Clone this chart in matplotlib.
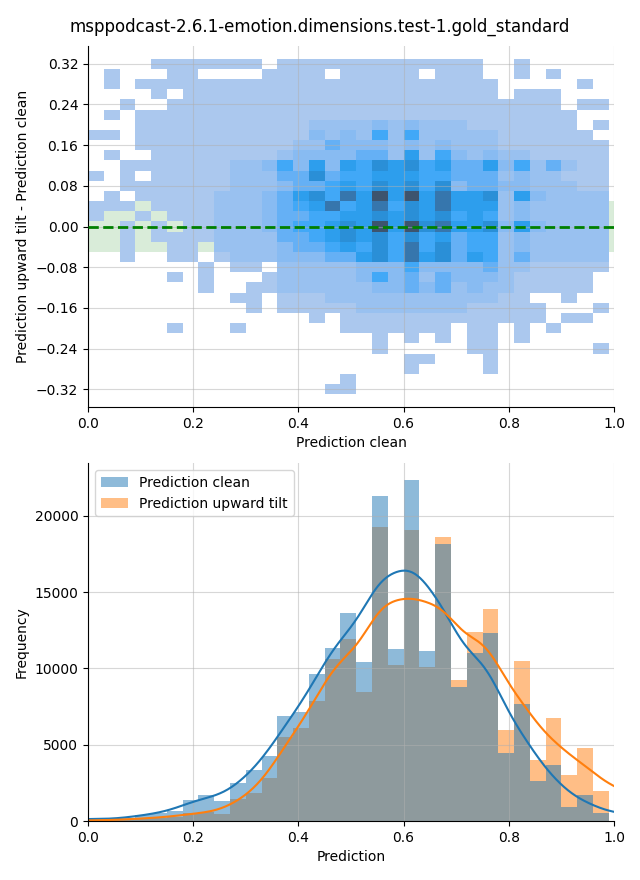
import numpy as np
import matplotlib
matplotlib.use("Agg")
import matplotlib.pyplot as plt
from matplotlib.ticker import MultipleLocator
from matplotlib.patches import Patch
import seaborn as sns

TITLE = "msppodcast-2.6.1-emotion.dimensions.test-1.gold_standard"

# ---------------- bottom panel: histogram counts per 0.03 bin (0.00 .. 0.99)
BIN_WIDTH = 0.03
clean_counts = [80, 120, 200, 420, 500, 650, 1350, 1700, 1310, 2490, 3340, 4260,
                6870, 7120, 9630, 11330, 13620, 10410, 21280, 11260, 22330, 11130,
                18140, 8800, 11020, 12310, 4475, 7660, 2640, 3670, 930, 1700, 550]
tilt_counts = [30, 60, 100, 180, 220, 280, 500, 600, 458, 1440, 1830, 2820,
               5500, 6090, 7860, 10610, 11920, 8470, 19250, 10220, 19060, 10090,
               18600, 9230, 12380, 13880, 5960, 10480, 3995, 6745, 3010, 4780, 1960]
# predictions outside the binned range (only enter the density curve)
clean_below = [250]            # bin just below 0
tilt_below = [60]
clean_above = [300, 800]       # bins just above 0.99
tilt_above = [2200, 2000, 1200]
KDE_BW = 0.035

# ---------------- top panel: 2-D histogram (x: 0.03 bins 0..0.99, y: 0.02 bins -0.33..0.33)
# rows from y=+0.32 (top) to y=-0.32 (bottom); '.' = empty, digits = count level
diff_levels = [
    "....1111111.1111111111111..1.....",
    ".1...11....1111.11111.111..1.1...",
    ".1.11111111111111111111111.....1.",
    "....1.11111111111111111111.111...",
    "..1..1111111111111111111111111.11",
    ".1.1111111111111111111111111111..",
    "...11111111111" + "2222323222" + "1111111" + ".1",
    "11.11111111111" + "323252522222" + "111111" + ".",
    "..." + "1111111111" + "2243332323222" + "1111111",
    ".1.." + "11111111" + "2333344262532322" + "11111",
    ".." + "1111111" + "223536365767564463524211",
    "1.1." + "11111" + "222447455666554442322111",
    ".." + "1111111" + "222344565767573443322211",
    ".1." + "11111" + "2223467586969686672632222",
    "111." + "1111" + "2223456856857686662322222",
    "1..1.111" + "2223445566767675652322222",
    "..1.1.11" + "2223455676969786673632222",
    "..1.1111" + "2222445676757564552322222",
    "..1..11." + "2222344565758574552322222",
    "..1..11." + "1222333446758674652422222",
    ".......1.11." + "222223335333342211111",
    ".....1.1..." + "122222353424333211111" + ".",
    ".......1.." + "1122222233434232211111" + ".",
    ".........11." + "1112222222222211" + "..1..",
    "..........1." + "11111222222211111" + "...1",
    "..............1." + "1111111111111" + ".11.",
    ".....1...1......1111111.11.1.1...",
    "..................1.1.1.11.1.....",
    "..................1.....11......1",
    "....................11...1.......",
    "....................1....1.......",
    "................1................",
    "...............11................",
]
level_counts = {1: 15, 2: 180, 3: 330, 4: 570, 5: 760, 6: 960, 7: 1260, 8: 1770, 9: 2500}

# ---------------------------------------------------------------------------
for r in diff_levels:
    assert len(r) == 33, (r, len(r))

x_edges = np.linspace(0.0, 0.99, 34)
y_edges = np.linspace(-0.33, 0.33, 34)
x_cent = 0.5 * (x_edges[:-1] + x_edges[1:])
y_cent = 0.5 * (y_edges[:-1] + y_edges[1:])[::-1]

xs, ys, ws = [], [], []
for j, row in enumerate(diff_levels):
    for k, ch in enumerate(row):
        if ch != ".":
            xs.append(x_cent[k])
            ys.append(y_cent[j])
            ws.append(level_counts[int(ch)])

fig = plt.figure(figsize=(6.4, 8.8), dpi=100)
fig.suptitle(TITLE, fontsize=12)

ax1 = fig.add_axes([0.1375, 0.5375, 0.8219, 0.4102])
ax1.axhspan(-0.05, 0.05, color="green", alpha=0.15, linewidth=0, zorder=0)
sns.histplot(x=np.array(xs), y=np.array(ys), weights=np.array(ws),
             bins=[x_edges, y_edges], ax=ax1)
ax1.axhline(0, color="green", linestyle="--", linewidth=2, zorder=3)
ax1.set_xlim(0, 1)
ax1.set_ylim(-0.355, 0.355)
ax1.yaxis.set_major_locator(MultipleLocator(0.08))
ax1.grid(True, color="#b0b0b0", alpha=0.5, linewidth=0.8)
ax1.set_xlabel("Prediction clean")
ax1.set_ylabel("Prediction upward tilt - Prediction clean")
ax1.spines["top"].set_visible(False)
ax1.spines["right"].set_visible(False)

# bottom panel
ax2 = fig.add_axes([0.1375, 0.0670, 0.8219, 0.4068])
edges = np.arange(len(clean_counts) + 1) * BIN_WIDTH
centers = 0.5 * (edges[:-1] + edges[1:])
ax2.bar(centers, tilt_counts, width=BIN_WIDTH, color="C1", alpha=0.5, linewidth=0)
ax2.bar(centers, clean_counts, width=BIN_WIDTH, color="C0", alpha=0.5, linewidth=0)


def kde(counts, below, above, grid):
    c = list(centers) + [-(i + 0.5) * BIN_WIDTH for i in range(len(below))] \
        + [edges[-1] + (i + 0.5) * BIN_WIDTH for i in range(len(above))]
    w = np.array(list(counts) + list(below) + list(above), float)
    c = np.array(c)
    z = (grid[:, None] - c[None, :]) / KDE_BW
    dens = (w[None, :] * np.exp(-0.5 * z ** 2)).sum(1) / (KDE_BW * np.sqrt(2 * np.pi))
    return dens * BIN_WIDTH


grid = np.linspace(0, 1, 400)
ax2.plot(grid, kde(clean_counts, clean_below, clean_above, grid), color="C0", lw=1.5)
ax2.plot(grid, kde(tilt_counts, tilt_below, tilt_above, grid), color="C1", lw=1.5)
ax2.set_xlim(0, 1)
ax2.set_ylim(0, max(max(clean_counts), max(tilt_counts)) * 1.05)
ax2.grid(True, color="#b0b0b0", alpha=0.5, linewidth=0.8)
ax2.set_xlabel("Prediction")
ax2.set_ylabel("Frequency")
ax2.spines["top"].set_visible(False)
ax2.spines["right"].set_visible(False)
handles = [Patch(facecolor="C0", alpha=0.5, label="Prediction clean"),
           Patch(facecolor="C1", alpha=0.5, label="Prediction upward tilt")]
ax2.legend(handles=handles, loc="upper left")

fig.savefig("out.png", dpi=100)
